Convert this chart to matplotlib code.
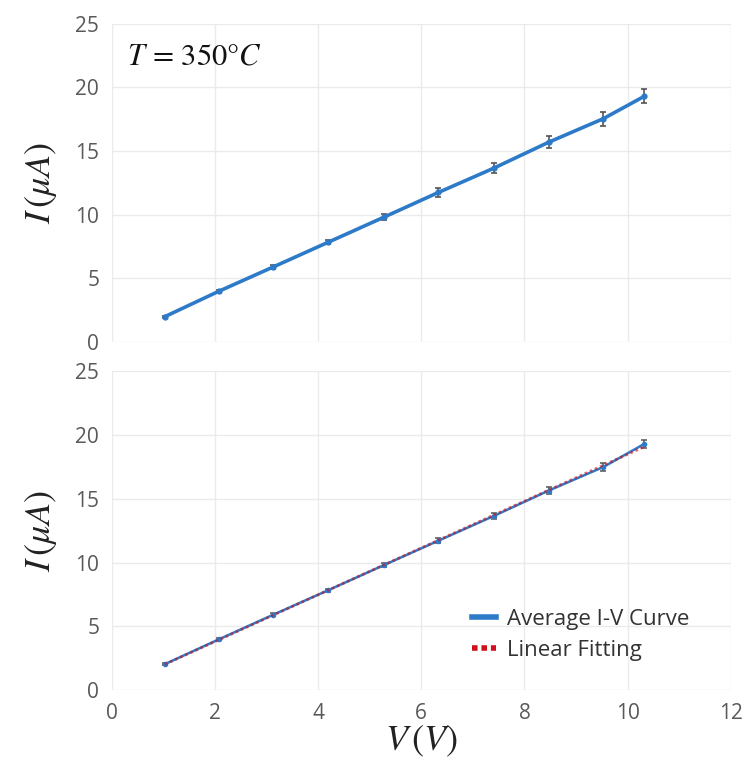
import numpy as np
from matplotlib import pyplot as plt

plt.rcParams["font.family"] = ["Open Sans", "DejaVu Sans"]
plt.rcParams["mathtext.fontset"] = "stix"

voltage = [1.03, 2.08, 3.13, 4.2, 5.27, 6.33, 7.4, 8.47, 9.53, 10.32]
current_top = [2.0, 4.0, 5.9, 7.85, 9.8, 11.75, 13.65, 15.7, 17.55, 19.3]
err_top = [0.08, 0.12, 0.15, 0.18, 0.25, 0.32, 0.38, 0.45, 0.55, 0.55]
current_bottom = [2.05, 4.0, 5.92, 7.85, 9.8, 11.72, 13.65, 15.65, 17.5, 19.3]
err_bottom = [0.05, 0.08, 0.1, 0.12, 0.15, 0.18, 0.22, 0.28, 0.3, 0.35]

x_ticks = [0, 2, 4, 6, 8, 10, 12]
y_ticks = [0, 5, 10, 15, 20, 25]

BLUE = "#2D7BC8"
GRID = "#EBEBEB"
TICK = "#595959"

fig = plt.figure(figsize=(7.45, 7.67), dpi=100)
ax_top = fig.add_axes([0.150, 0.554, 0.831, 0.415])
ax_bot = fig.add_axes([0.150, 0.100, 0.831, 0.416])


def style(ax, show_x):
    ax.set_xlim(0, 12)
    ax.set_ylim(0, 25)
    ax.set_xticks(x_ticks)
    ax.set_yticks(y_ticks)
    ax.grid(True, color=GRID, linewidth=1)
    ax.set_axisbelow(True)
    for s in ax.spines.values():
        s.set_visible(False)
    ax.tick_params(length=0, labelsize=15, colors=TICK, pad=9)
    if not show_x:
        ax.set_xticklabels([])
    ax.set_ylabel(r"$I\,(\mu A)$", fontsize=26, color="#222222", labelpad=12)


# Top panel
ax_top.errorbar(voltage, current_top, yerr=err_top, color=BLUE, linewidth=2.6,
                marker="o", markersize=3.5, ecolor="#555555", elinewidth=1.2,
                capsize=2.5, capthick=1.2, zorder=3)
ax_top.text(0.025, 0.945, r"$T\,=\,350\degree C$", transform=ax_top.transAxes,
            fontsize=22, color="#111111", va="top", ha="left")
style(ax_top, False)

# Bottom panel
coef = np.polyfit(voltage, current_bottom, 1)
fit = np.polyval(coef, voltage)
ax_bot.errorbar(voltage, current_bottom, yerr=err_bottom, color=BLUE, linewidth=1.8,
                marker="o", markersize=3, ecolor="#555555", elinewidth=1.1,
                capsize=2.2, capthick=1.1, zorder=3, label="_nolegend_")
ax_bot.plot([], [], color=BLUE, linewidth=4, label="Average I-V Curve")
ax_bot.plot(voltage, fit, color="#D0101A", linewidth=2, linestyle=(0, (1, 1)),
            alpha=0.6, zorder=4, label="_nolegend_")
ax_bot.plot([], [], color="#D0101A", linewidth=4, linestyle=(0, (1, 0.7)),
            label="Linear Fitting")
style(ax_bot, True)
ax_bot.set_xlabel(r"$V\,(V)$", fontsize=26, color="#222222", labelpad=0)
leg = ax_bot.legend(loc="lower right", bbox_to_anchor=(0.965, 0.03), frameon=False,
                    fontsize=16, handlelength=1.05, handletextpad=0.5, labelspacing=0.45)
for t in leg.get_texts():
    t.set_color("#333333")

fig.savefig("out.png", dpi=100)
